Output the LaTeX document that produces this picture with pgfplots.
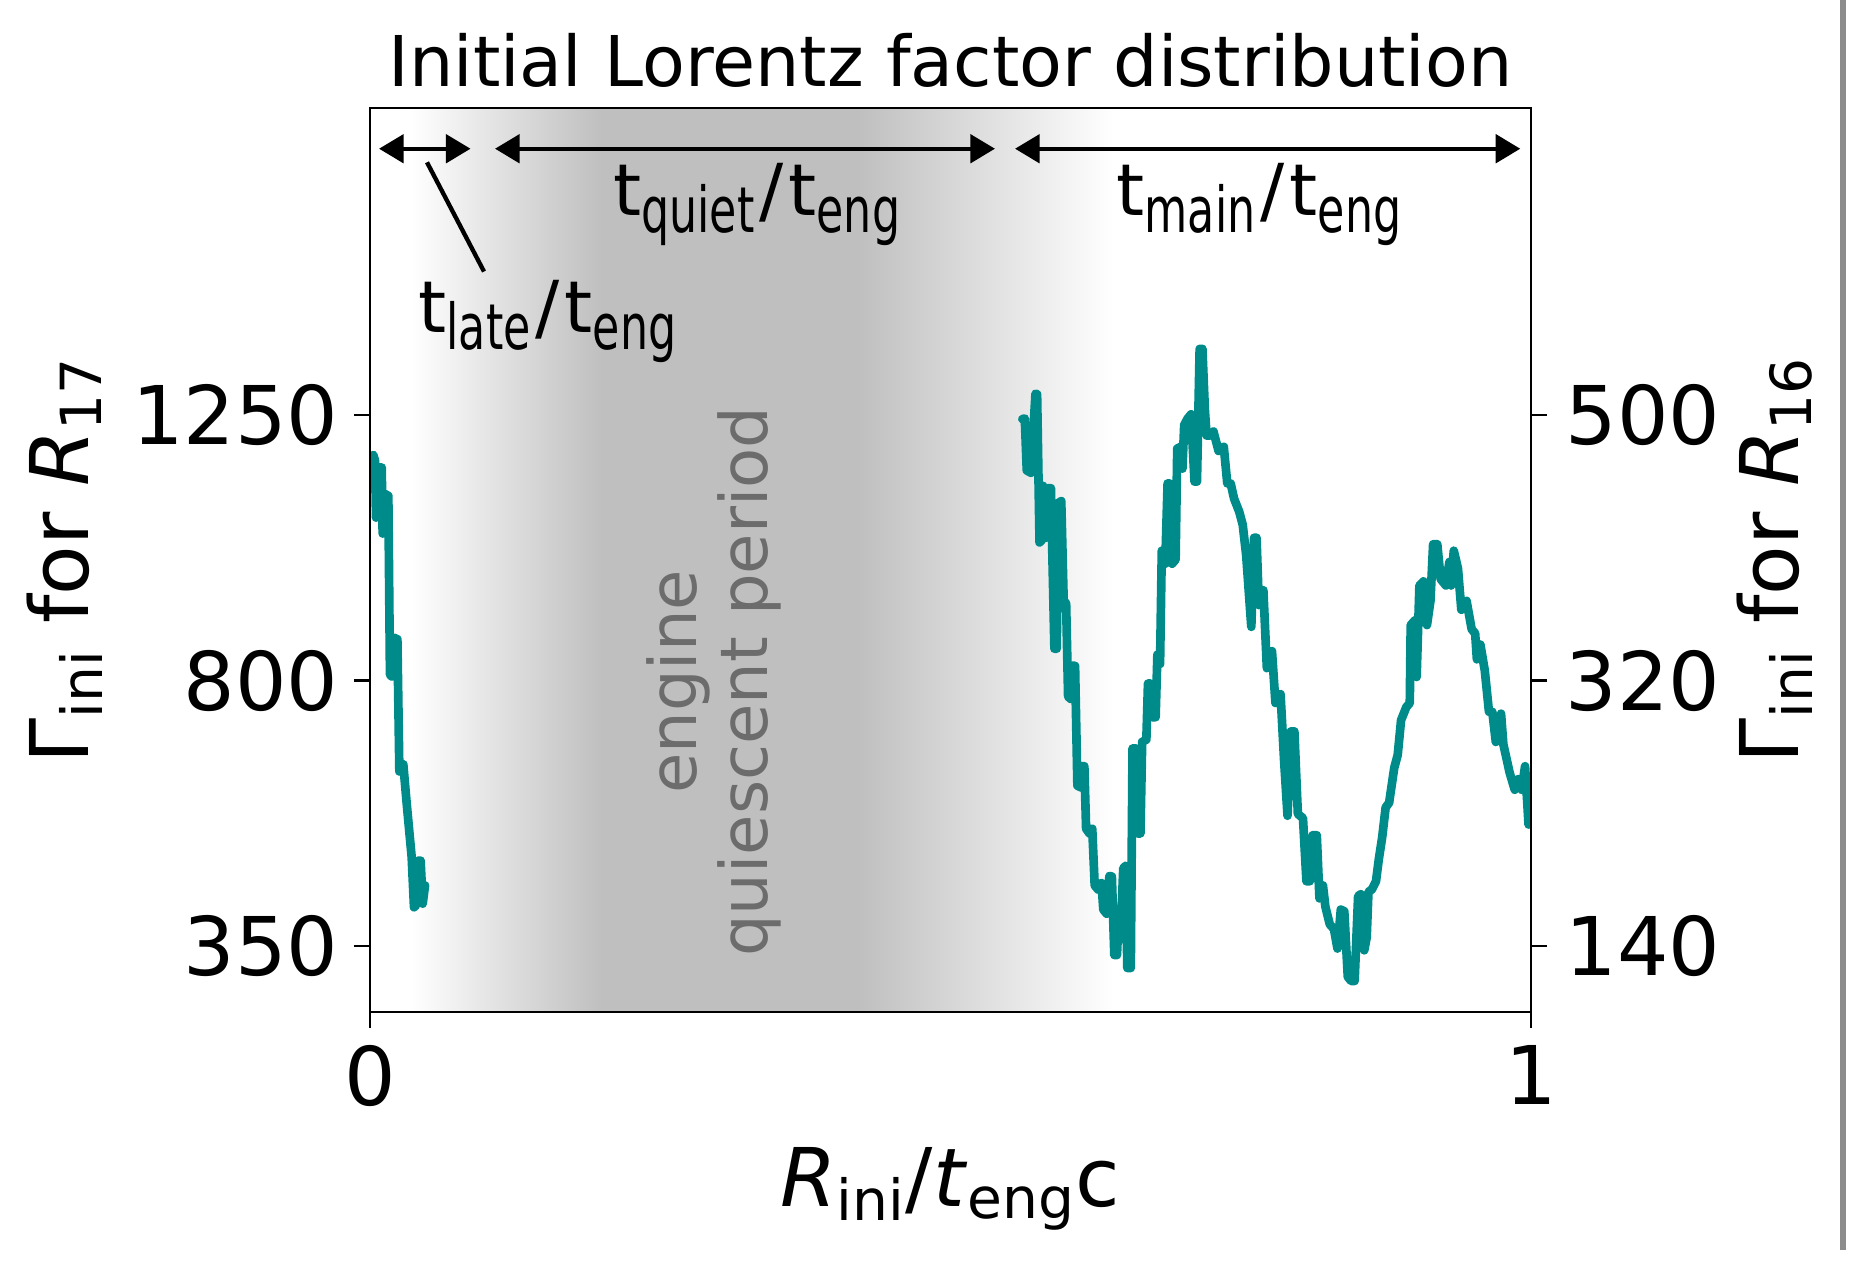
\documentclass[border=0pt]{standalone}
\usepackage{fontspec}
\setmainfont{DejaVu Sans}
\newfontfamily\subfont[FakeStretch=0.7]{DejaVu Sans}
\usepackage{pgfplots}
\pgfplotsset{compat=1.18}
\usetikzlibrary{arrows.meta}

\definecolor{lineteal}{RGB}{0,139,139}
\definecolor{shadegray}{RGB}{191,191,191}
\definecolor{quiettext}{RGB}{108,108,108}
\definecolor{edgegray}{RGB}{140,140,140}

% t_{sub}/t_{eng} labels over the arrows
\newcommand{\tlab}[1]{{\fontsize{21.5}{21.5}\selectfont t\raisebox{-5pt}{\subfont\fontsize{19}{19}\selectfont #1}\hspace{1.5pt}/\hspace{1.5pt}t\raisebox{-5pt}{\subfont\fontsize{19}{19}\selectfont eng}}}

\begin{document}
\begin{tikzpicture}
\path[use as bounding box] (-111pt,-75pt) rectangle (444pt,303.6pt);

\begin{axis}[
    scale only axis, width=348.3pt, height=271.2pt,
    xmin=0, xmax=1, ymin=238.5, ymax=1770,
    xtick={0,1}, ytick={350,800,1250},
    xtick pos=lower, ytick pos=left,
    tick align=outside, major tick length=4.8pt,
    tick style={black, line width=0.7pt},
    axis line style={line width=0.8pt},
    axis on top,
    /pgf/number format/assume math mode=true,
    /pgf/number format/1000 sep={},
    tick label style={font=\fontsize{24.3}{29}\selectfont, inner sep=0pt},
    yticklabel shift=4.5pt, xticklabel shift=5pt,
    title={Initial Lorentz factor distribution},
    every axis title/.style={at={(axis description cs:0.5,1.0243)}, anchor=base,
                 font=\fontsize{21}{25}\selectfont, inner sep=0pt},
    xlabel={\textit{R}\textsubscript{ini}/\textit{t}\textsubscript{eng}c},
    xlabel style={at={(axis description cs:0.5,-0.2146)}, anchor=base,
                  font=\fontsize{24.3}{29}\selectfont, inner sep=0pt},
    ylabel={Γ\textsubscript{ini} for \textit{R}\textsubscript{17}},
    ylabel style={at={(axis description cs:-0.2426,0.5)}, anchor=base,
                  font=\fontsize{24.3}{29}\selectfont, inner sep=0pt},
]
% quiescent period background
\addplot[draw=none, left color=white, right color=shadegray, forget plot]
    coordinates {(0.035,238.5) (0.20,238.5) (0.20,1770) (0.035,1770)} -- cycle;
\addplot[draw=none, fill=shadegray, forget plot]
    coordinates {(0.199,238.5) (0.421,238.5) (0.421,1770) (0.199,1770)} -- cycle;
\addplot[draw=none, left color=shadegray, right color=white, forget plot]
    coordinates {(0.42,238.5) (0.64,238.5) (0.64,1770) (0.42,1770)} -- cycle;

% late engine activity
\addplot[lineteal, line width=2.6pt, line join=round, line cap=round] coordinates {
(0.0029,1182) (0.0043,1173) (0.0052,1076) (0.0072,1161) (0.0101,1161) (0.0109,1049)
(0.0129,1116) (0.0158,1113) (0.0172,810) (0.0187,807) (0.0201,873) (0.0236,870)
(0.0253,646) (0.0287,658) (0.0316,592) (0.0359,501) (0.0379,416) (0.0396,419)
(0.0416,495) (0.0436,495) (0.0454,422) (0.0474,453)
};
% main engine activity
\addplot[lineteal, line width=2.6pt, line join=round, line cap=round] coordinates {
(0.5619,1243) (0.5640,1244) (0.5657,1156) (0.5693,1152) (0.5732,1286) (0.5746,1285)
(0.5767,1034) (0.5788,1038) (0.5797,1130) (0.5826,1042) (0.5841,1126) (0.5865,1126)
(0.5895,854) (0.5915,854) (0.5930,1101) (0.5954,1104) (0.5975,935) (0.5996,931)
(0.6013,773) (0.6034,769) (0.6049,825) (0.6073,825) (0.6093,622) (0.6123,619)
(0.6138,655) (0.6153,655) (0.6168,549) (0.6197,541) (0.6221,549) (0.6242,453)
(0.6271,446) (0.6301,457) (0.6316,412) (0.6345,405) (0.6369,469) (0.6390,468)
(0.6411,335) (0.6434,335) (0.6449,405) (0.6464,361) (0.6488,482) (0.6509,486)
(0.6523,313) (0.6553,313) (0.6568,685) (0.6598,685) (0.6612,541) (0.6636,541)
(0.6651,696) (0.6687,700) (0.6701,795) (0.6722,795) (0.6737,738) (0.6767,738)
(0.6782,844) (0.6805,828) (0.6820,1020) (0.6850,998) (0.6870,1134) (0.6888,1134)
(0.6909,998) (0.6939,1005) (0.6953,1193) (0.6983,1196) (0.6998,1159) (0.7013,1233)
(0.7043,1244) (0.7072,1251) (0.7102,1137) (0.7123,1137) (0.7146,1362) (0.7170,1362)
(0.7191,1259) (0.7206,1215) (0.7235,1215) (0.7265,1222) (0.7309,1189) (0.7354,1196)
(0.7384,1134) (0.7413,1134) (0.7443,1108) (0.7487,1086) (0.7517,1064) (0.7547,1012)
(0.7591,891) (0.7615,1042) (0.7636,1042) (0.7656,928) (0.7695,953) (0.7725,821)
(0.7769,850) (0.7799,762) (0.7843,777) (0.7873,666) (0.7903,571) (0.7932,714)
(0.7962,714) (0.7992,574) (0.8036,567) (0.8066,460) (0.8095,460) (0.8119,538)
(0.8155,538) (0.8178,431) (0.8208,453) (0.8229,417) (0.8267,387) (0.8303,379)
(0.8333,346) (0.8362,412) (0.8392,409) (0.8422,298) (0.8451,291) (0.8481,291)
(0.8511,435) (0.8534,438) (0.8564,343) (0.8585,365) (0.8600,442) (0.8629,446)
(0.8665,460) (0.8689,497) (0.8718,534) (0.8748,585) (0.8778,593) (0.8822,652)
(0.8852,674) (0.8881,733) (0.8926,755) (0.8956,762) (0.8964,894) (0.9000,902)
(0.9015,806) (0.9039,961) (0.9074,968) (0.9104,894) (0.9134,935) (0.9157,1031)
(0.9193,1031) (0.9222,972) (0.9267,961) (0.9297,1001) (0.9312,961) (0.9335,1020)
(0.9371,990) (0.9400,920) (0.9445,935) (0.9489,887) (0.9519,880) (0.9534,836)
(0.9564,861) (0.9602,817) (0.9638,747) (0.9667,747) (0.9697,696) (0.9742,744)
(0.9762,692) (0.9816,644) (0.9860,615) (0.9890,633) (0.9920,615) (0.9949,655)
(0.9979,556)
};

% time-scale arrows and labels
\draw[{Triangle[length=7.4pt,width=8.5pt]}-{Triangle[length=7.4pt,width=8.5pt]}, line width=1.3pt]
    (axis cs:0.0078,1701) -- (axis cs:0.0866,1701);
\draw[{Triangle[length=7.4pt,width=8.5pt]}-{Triangle[length=7.4pt,width=8.5pt]}, line width=1.3pt]
    (axis cs:0.1077,1701) -- (axis cs:0.5383,1701);
\draw[{Triangle[length=7.4pt,width=8.5pt]}-{Triangle[length=7.4pt,width=8.5pt]}, line width=1.3pt]
    (axis cs:0.5556,1701) -- (axis cs:0.9908,1701);
\draw[line width=1.3pt] (axis cs:0.0491,1678) -- (axis cs:0.0982,1493);
\node[anchor=base, inner sep=0pt] at (axis cs:0.333,1588) {\tlab{quiet}};
\node[anchor=base, inner sep=0pt] at (axis cs:0.7657,1588) {\tlab{main}};
\node[anchor=base, inner sep=0pt] at (axis cs:0.1529,1389) {\tlab{late}};
\node[rotate=90, align=center, text=quiettext, inner sep=0pt,
      font=\fontsize{19.7}{21.3}\selectfont] at (axis cs:0.296,798)
    {engine\\quiescent period};
\end{axis}

% right-hand scale for R_16
\begin{axis}[
    scale only axis, width=348.3pt, height=271.2pt,
    xmin=0, xmax=1, ymin=95.4, ymax=708,
    axis x line=none, axis y line*=right,
    ytick={140,320,500},
    tick align=outside, major tick length=4.8pt,
    tick style={black, line width=0.7pt},
    axis line style={-, line width=0.8pt},
    /pgf/number format/assume math mode=true,
    tick label style={font=\fontsize{24.3}{29}\selectfont, inner sep=0pt},
    yticklabel shift=5.4pt,
    ylabel={Γ\textsubscript{ini} for \textit{R}\textsubscript{16}},
    ylabel style={at={(axis description cs:1.230,0.5)}, anchor=base,
                  font=\fontsize{24.3}{29}\selectfont, inner sep=0pt},
]
\addplot[draw=none, forget plot] coordinates {(0,140) (1,500)};
\end{axis}

\draw[edgegray, line width=2pt] (441.9pt,303.6pt) -- (441.9pt,-71.4pt);
\end{tikzpicture}
\end{document}
